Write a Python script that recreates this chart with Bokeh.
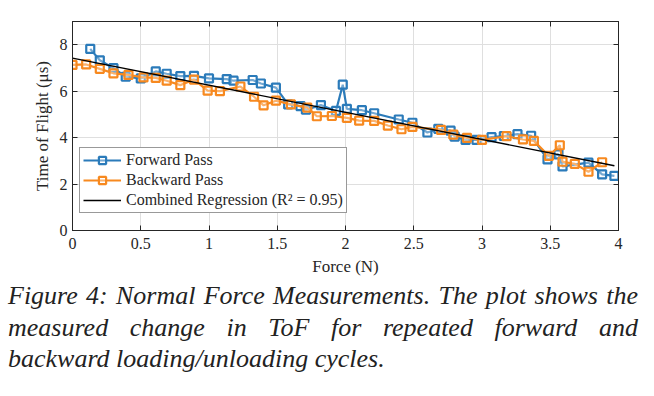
import numpy as np
from bokeh.plotting import figure
from bokeh.models import (Range1d, LinearAxis, Legend, LegendItem, Div, FixedTicker, ColumnDataSource)
from bokeh.layouts import column
from bokeh.embed import file_html
from bokeh.resources import INLINE

# ---- data ----
fwd_force = [0.13, 0.20, 0.30, 0.39, 0.50, 0.61, 0.69, 0.79, 0.89, 1.00, 1.13, 1.18, 1.32, 1.38,
             1.49, 1.58, 1.67, 1.71, 1.82, 1.93, 1.98, 2.01, 2.12, 2.21, 2.39, 2.49, 2.60, 2.68,
             2.77, 2.80, 2.88, 2.96, 3.07, 3.16, 3.26, 3.36, 3.48, 3.56, 3.59, 3.78, 3.88, 3.97]
fwd_tof = [7.82, 7.33, 6.99, 6.62, 6.55, 6.85, 6.75, 6.65, 6.66, 6.55, 6.52, 6.45, 6.48, 6.33,
           6.15, 5.43, 5.36, 5.20, 5.40, 5.15, 6.28, 5.24, 5.18, 5.05, 4.78, 4.64, 4.22, 4.38,
           4.30, 4.04, 3.90, 3.90, 4.02, 4.07, 4.15, 4.08, 3.06, 3.28, 2.76, 2.92, 2.42, 2.35]

bwd_force = [0.00, 0.10, 0.20, 0.30, 0.41, 0.52, 0.61, 0.69, 0.79, 0.89, 0.99, 1.08, 1.23, 1.33,
             1.40, 1.49, 1.60, 1.72, 1.79, 1.90, 2.01, 2.10, 2.21, 2.31, 2.41, 2.49, 2.70, 2.79,
             2.89, 3.00, 3.18, 3.30, 3.38, 3.49, 3.57, 3.59, 3.68, 3.78, 3.88]
bwd_tof = [7.13, 7.15, 6.96, 6.77, 6.70, 6.59, 6.57, 6.45, 6.26, 6.50, 6.02, 6.00, 6.20, 5.76,
           5.39, 5.59, 5.43, 5.29, 4.92, 4.93, 4.85, 4.73, 4.72, 4.52, 4.36, 4.46, 4.33, 4.13,
           3.99, 3.90, 4.06, 3.92, 3.86, 3.21, 3.67, 2.96, 2.87, 2.53, 2.94]

x_ticks = [0, 0.5, 1, 1.5, 2, 2.5, 3, 3.5, 4]
x_tick_labels = ["0", "0.5", "1", "1.5", "2", "2.5", "3", "3.5", "4"]
y_ticks = [0, 2, 4, 6, 8]

fwd_label = "Forward Pass"
bwd_label = "Backward Pass"
reg_label = "Combined Regression (R\u00b2 = 0.95)"
caption_lines = ["Figure 4: Normal Force Measurements. The plot shows the",
                 "measured change in ToF for repeated forward and",
                 "backward loading/unloading cycles."]

# combined least-squares regression
all_x = np.array(fwd_force + bwd_force)
all_y = np.array(fwd_tof + bwd_tof)
slope, intercept = np.polyfit(all_x, all_y, 1)
reg_x = [all_x.min(), all_x.max()]
reg_y = [intercept + slope * v for v in reg_x]

SERIF = "'Liberation Serif', 'Times New Roman', Tinos, 'Nimbus Roman', 'DejaVu Serif Condensed', 'DejaVu Serif', serif"
BLUE = "#2b7bba"
ORANGE = "#f7891f"
DARK = "#262626"

p = figure(width=646, height=280, output_backend="svg", toolbar_location=None,
           x_range=Range1d(0, 4), y_range=Range1d(0, 9),
           min_border_left=72, min_border_right=28, min_border_top=21, min_border_bottom=50)
p.outline_line_color = DARK
p.outline_line_width = 1
p.background_fill_color = "white"
p.border_fill_color = "white"

for ax in [p.xaxis[0], p.yaxis[0]]:
    ax.major_label_text_font = SERIF
    ax.major_label_text_font_size = "16px"
    ax.major_label_text_color = DARK
    ax.axis_label_text_font = SERIF
    ax.axis_label_text_font_size = "17px"
    ax.axis_label_text_font_style = "normal"
    ax.axis_label_text_color = DARK
    ax.axis_line_color = DARK
    ax.major_tick_line_color = DARK
    ax.major_tick_in = 5
    ax.major_tick_out = 0
    ax.minor_tick_line_color = None

p.xaxis[0].ticker = FixedTicker(ticks=x_ticks)
p.xaxis[0].major_label_overrides = {t: l for t, l in zip(x_ticks, x_tick_labels)}
p.yaxis[0].ticker = FixedTicker(ticks=y_ticks)
p.xaxis[0].axis_label = "Force (N)"
p.yaxis[0].axis_label = "Time of Flight (\u03bcs)"
p.xaxis[0].major_label_standoff = 7
p.xaxis[0].axis_label_standoff = 5
p.yaxis[0].major_label_standoff = 5
p.yaxis[0].axis_label_standoff = 5

top = LinearAxis(ticker=FixedTicker(ticks=x_ticks), major_label_text_color=None,
                 major_tick_in=5, major_tick_out=0, minor_tick_line_color=None,
                 axis_line_color=DARK, major_tick_line_color=DARK)
right = LinearAxis(ticker=FixedTicker(ticks=y_ticks), major_label_text_color=None,
                   major_tick_in=5, major_tick_out=0, minor_tick_line_color=None,
                   axis_line_color=DARK, major_tick_line_color=DARK)
p.add_layout(top, "above")
p.add_layout(right, "right")

p.xgrid.ticker = FixedTicker(ticks=x_ticks)
p.ygrid.ticker = FixedTicker(ticks=y_ticks)
p.grid.grid_line_color = "#dfdfdf"
p.grid.grid_line_width = 1

fsrc = ColumnDataSource(dict(x=fwd_force, y=fwd_tof))
bsrc = ColumnDataSource(dict(x=bwd_force, y=bwd_tof))

fl = p.line("x", "y", source=fsrc, line_color=BLUE, line_width=2.2)
fm = p.scatter("x", "y", source=fsrc, marker="square", size=8, line_color=BLUE,
               line_width=2.2, fill_color="white", fill_alpha=0.35)
bl = p.line("x", "y", source=bsrc, line_color=ORANGE, line_width=2.2)
bm = p.scatter("x", "y", source=bsrc, marker="square", size=8, line_color=ORANGE,
               line_width=2.2, fill_color="white", fill_alpha=0.35)
rl = p.line(reg_x, reg_y, line_color="black", line_width=1.3)

legend = Legend(items=[LegendItem(label=fwd_label, renderers=[fl, fm]),
                       LegendItem(label=bwd_label, renderers=[bl, bm]),
                       LegendItem(label=reg_label, renderers=[rl])],
                location=(7, 17))
legend.label_text_font = SERIF
legend.label_text_font_size = "16px"
legend.label_text_color = DARK
legend.border_line_color = "#333333"
legend.border_line_width = 1
legend.background_fill_alpha = 1
legend.glyph_width = 38
legend.glyph_height = 18
legend.label_height = 18
legend.label_standoff = 5
legend.spacing = 2
legend.padding = 3
legend.margin = 0
p.add_layout(legend, "center")

line_html = []
for i, ln in enumerate(caption_lines):
    last = "justify" if i < len(caption_lines) - 1 else "left"
    line_html.append(f'<div style="display:block;width:630px;text-align:justify;'
                     f'text-align-last:{last};white-space:nowrap">{ln}</div>')
div = Div(text="".join(line_html), width=630, margin=(0, 0, 0, 8),
          styles={"font-family": SERIF, "font-style": "italic",
                  "font-size": "26px", "line-height": "31.5px",
                  "color": "#222222", "width": "630px"})

layout = column(p, div, spacing=0)
open("out.html", "w").write(file_html(layout, INLINE))
